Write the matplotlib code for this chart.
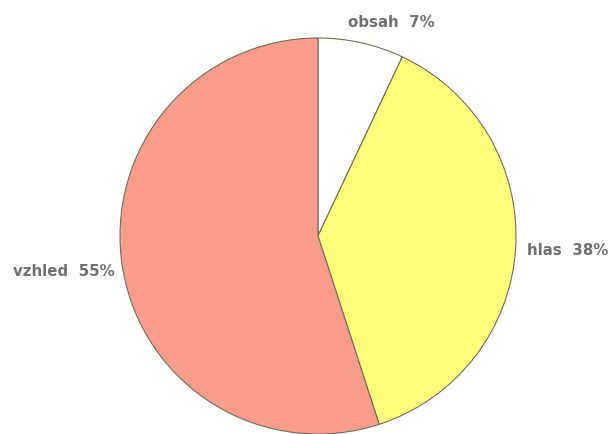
import matplotlib.pyplot as plt

names = ['obsah', 'hlas', 'vzhled']
values = [7, 38, 55]
colors = ['#ffffff', '#ffff7a', '#fa9c8c']

labels = [f'{n}  {v}%' for n, v in zip(names, values)]

fig = plt.figure(figsize=(6.11, 4.35), dpi=100)
# pie centre at about (318, 237) px, radius about 198 px
cx, cy, r = 318, 237, 198
ax = fig.add_axes([(cx - r) / 611, (435 - cy - r) / 435, 2 * r / 611, 2 * r / 435])
wedges, texts = ax.pie(values, labels=labels, colors=colors, startangle=90,
                       counterclock=False, labeldistance=1.06,
                       wedgeprops={'edgecolor': '#6e6e5a', 'linewidth': 0.8},
                       textprops={'color': '#707070', 'fontsize': 10.8,
                                  'fontweight': 'bold', 'family': 'DejaVu Sans'})
# small label nudges to match the original placement
x, y = texts[0].get_position()
texts[0].set_position((x + 0.14, y + 0.05))
texts[0].set_horizontalalignment('center')
x, y = texts[2].get_position()
texts[2].set_position((x + 0.02, y - 0.01))
ax.set_xlim(-1, 1)
ax.set_ylim(-1, 1)
ax.set_aspect('auto')
ax.axis('off')

fig.savefig('out.png', dpi=100)
